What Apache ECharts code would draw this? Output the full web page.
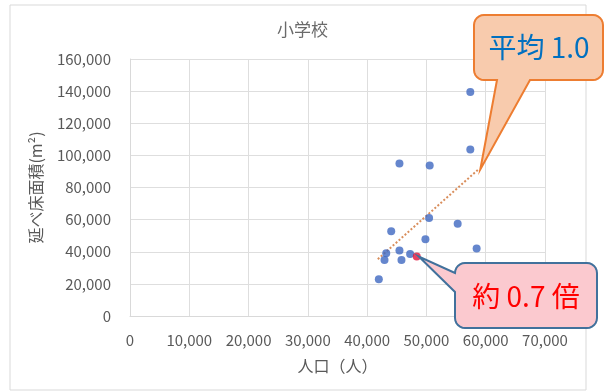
<!DOCTYPE html>
<html>
<head>
<meta charset="utf-8">
<script src="https://cdn.jsdelivr.net/npm/echarts@6/dist/echarts.min.js"></script>
<style>
  html, body { margin: 0; padding: 0; background: #fff; }
  #chart { width: 605px; height: 392px; }
</style>
</head>
<body>
<div id="chart"></div>
<script>
// 人口 / 延べ床面積 (小学校)
var population = [57400, 57400, 45450, 50550, 50450, 55270, 44060, 49830, 58470, 45450, 43220, 47250, 42930, 45790, 41970];
var floorArea  = [139500, 103600, 94900, 93650, 60960, 57490, 52700, 47750, 41980, 40740, 39070, 38640, 34910, 34910, 22940];
// 対象の市 (赤)
var targetPoint = [48370, 37020];
// 近似線の両端
var trendLine = [[41800, 35400], [58750, 91200]];
var xTicks = [0, 10000, 20000, 30000, 40000, 50000, 60000, 70000];
var yTicks = [0, 20000, 40000, 60000, 80000, 100000, 120000, 140000, 160000];

var font = '"Noto Sans CJK JP", "Noto Sans", sans-serif';
var gray = '#595959';

var points = population.map(function (x, i) { return [x, floorArea[i]]; });

var chart = echarts.init(document.getElementById('chart'));

function fmt(v) {
  return v.toLocaleString('en-US');
}

chart.setOption({
  animation: false,
  textStyle: { fontFamily: font },
  title: {
    text: '小学校',
    left: 'center',
    top: 16,
    textStyle: { fontSize: 17, fontWeight: 'normal', color: '#6a6a6a', fontFamily: font }
  },
  grid: { left: 130, right: 60, top: 59, bottom: 76 },
  xAxis: {
    type: 'value',
    min: xTicks[0],
    max: xTicks[xTicks.length - 1],
    interval: xTicks[1] - xTicks[0],
    name: '人口（人）',
    nameLocation: 'middle',
    nameGap: 42,
    nameTextStyle: { fontSize: 16, color: gray },
    axisLine: { show: true, lineStyle: { color: '#D9D9D9' } },
    axisTick: { show: false },
    axisLabel: { color: gray, fontSize: 15, margin: 17, formatter: fmt },
    splitLine: { show: true, lineStyle: { color: '#DEDEDE' } }
  },
  yAxis: {
    type: 'value',
    min: yTicks[0],
    max: yTicks[yTicks.length - 1],
    interval: yTicks[1] - yTicks[0],
    name: '延べ床面積(m²)',
    nameLocation: 'middle',
    nameGap: 86,
    nameTextStyle: { fontSize: 16, color: gray },
    axisLine: { show: true, lineStyle: { color: '#D9D9D9' } },
    axisTick: { show: false },
    axisLabel: { color: gray, fontSize: 15, margin: 19, formatter: fmt },
    splitLine: { show: true, lineStyle: { color: '#DEDEDE' } }
  },
  series: [
    {
      type: 'line',
      data: trendLine,
      symbol: 'none',
      lineStyle: { color: '#D98E5C', width: 2, type: 'dotted' },
      z: 1
    },
    {
      type: 'scatter',
      data: points,
      symbolSize: 8,
      itemStyle: { color: '#3F68C0' },
      z: 3
    },
    {
      type: 'scatter',
      data: [targetPoint],
      symbolSize: 8,
      itemStyle: { color: '#E0113A' },
      z: 4
    }
  ]
});

// 吹き出しの外形 (角丸四角 + しっぽ)
function calloutPoints(x, y, w, h, r, side, a, b, tip) {
  var pts = [];
  function arc(cx, cy, start) {
    for (var k = 0; k <= 6; k++) {
      var t = (start + k * 15) * Math.PI / 180;
      pts.push([cx + r * Math.cos(t), cy + r * Math.sin(t)]);
    }
  }
  arc(x + r, y + r, 180);            // top-left
  arc(x + w - r, y + r, 270);        // top-right
  arc(x + w - r, y + h - r, 0);      // bottom-right
  if (side === 'bottom') {
    pts.push([x + b, y + h], tip, [x + a, y + h]);
  }
  arc(x + r, y + h - r, 90);         // bottom-left
  if (side === 'left') {
    pts.push([x, y + b], tip, [x, y + a]);
  }
  return pts;
}

var tipAvg = chart.convertToPixel({ gridIndex: 0 }, trendLine[1]);
var tipTarget = chart.convertToPixel({ gridIndex: 0 }, targetPoint);

chart.setOption({
  graphic: [
    {
      type: 'rect',
      shape: { x: 10, y: 5, width: 576, height: 385 },
      style: { fill: 'none', stroke: '#D9D9D9', lineWidth: 1 },
      z: -1
    },
    {
      type: 'polygon',
      shape: { points: calloutPoints(474, 15, 129, 65, 10, 'bottom', 23, 56, [tipAvg[0] + 2, tipAvg[1]]) },
      style: { fill: '#F8CBAD', stroke: '#ED7D31', lineWidth: 2 },
      z: 10
    },
    {
      type: 'text',
      x: 539, y: 47,
      style: { text: '平均 1.0', fill: '#0070C0', font: '28px ' + font, textAlign: 'center', textVerticalAlign: 'middle' },
      z: 11
    },
    {
      type: 'polygon',
      shape: { points: calloutPoints(455, 263, 142, 65, 10, 'left', 10, 29, [tipTarget[0] + 2, tipTarget[1]]) },
      style: { fill: '#FBC9CF', stroke: '#41719C', lineWidth: 2 },
      z: 10
    },
    {
      type: 'text',
      x: 526, y: 296,
      style: { text: '約 0.7 倍', fill: '#FF0000', font: '28px ' + font, textAlign: 'center', textVerticalAlign: 'middle' },
      z: 11
    }
  ]
});
</script>
</body>
</html>
